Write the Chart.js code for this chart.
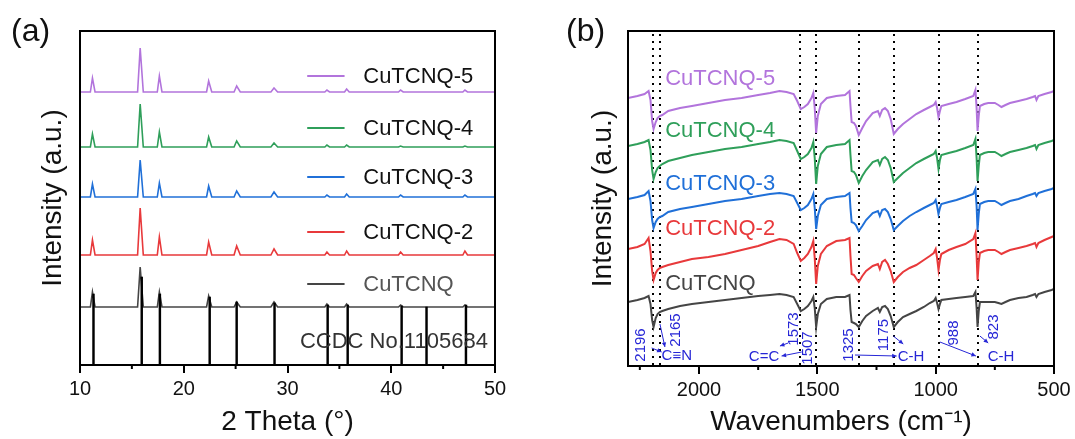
<!DOCTYPE html>
<html><head><meta charset="utf-8">
<script src="https://cdn.jsdelivr.net/npm/chart.js@4.4.1/dist/chart.umd.min.js"></script>
<style>
html,body{margin:0;padding:0;background:#fff;width:1075px;height:439px;overflow:hidden;font-family:"Liberation Sans",Arial,sans-serif;}
#ca{position:absolute;left:0;top:0;}
#cb{position:absolute;left:560px;top:0;}
.pl{position:absolute;font-size:32px;color:#111;line-height:1;}
</style></head><body>
<canvas id="ca" width="520" height="439"></canvas>
<canvas id="cb" width="515" height="439"></canvas>
<div class="pl" style="left:11px;top:14px">(a)</div>
<div class="pl" style="left:566px;top:14px">(b)</div>
<script>
// ---------- Panel (a): XRD ----------
const seriesNames = ['CuTCNQ-5', 'CuTCNQ-4', 'CuTCNQ-3', 'CuTCNQ-2', 'CuTCNQ'];
const xrdTheta = [10, 11.0, 11.2, 11.45, 15.55, 15.8, 16.1, 17.45, 17.65, 17.9, 22.2, 22.4, 22.7, 24.85, 25.1, 25.45, 28.4, 28.7, 29.05, 33.6, 33.8, 34.05, 35.5, 35.7, 35.95, 40.7, 40.9, 41.15, 46.9, 47.1, 47.35, 50];
const xrdCuTCNQ5 = [273, 273, 287, 273, 273, 317, 273, 273, 289, 273, 273, 284, 273, 273, 279, 273, 273, 277, 273, 273, 275, 273, 273, 276, 273, 273, 275, 273, 273, 275, 273, 273];
const xrdCuTCNQ4 = [218, 218, 231, 218, 218, 261, 218, 218, 233, 218, 218, 228, 218, 218, 224, 218, 218, 222, 218, 218, 220, 218, 218, 220, 218, 218, 219, 218, 218, 219, 218, 218];
const xrdCuTCNQ3 = [168, 168, 181, 168, 168, 205, 168, 168, 182, 168, 168, 179, 168, 168, 174, 168, 168, 173, 168, 168, 170, 168, 168, 171, 168, 168, 170, 168, 168, 170, 168, 168];
const xrdCuTCNQ2 = [110, 110, 125, 110, 110, 157, 110, 110, 128, 110, 110, 123, 110, 110, 119, 110, 110, 116, 110, 110, 113, 110, 110, 114, 110, 110, 113, 110, 110, 114, 110, 110];
const xrdCuTCNQ  = [58, 58, 73, 58, 58, 98, 58, 58, 73, 58, 58, 69, 58, 58, 63, 58, 58, 63, 58, 58, 61, 58, 58, 61, 58, 58, 60, 58, 58, 60, 58, 58];
const stickTheta = [11.3, 15.95, 17.7, 22.5, 25.1, 28.75, 33.87, 35.8, 41.0, 43.4, 47.2];
const stickHeight = [71, 88, 71, 68, 63, 62, 60, 60, 59, 58, 60];
const xrdTicks = [10, 20, 30, 40, 50];
const xrdMinorTicks = [15, 25, 35, 45];
const refLabel = 'CCDC No.1105684';

// ---------- Panel (b): FTIR ----------
const wavenumbers = [2300, 2260, 2230, 2213, 2205, 2198, 2192, 2183, 2175, 2166, 2155, 2130, 2080, 2030, 1960, 1890, 1820, 1750, 1700, 1660, 1630, 1600, 1585, 1570, 1555, 1540, 1525, 1517, 1511, 1505, 1498, 1485, 1460, 1420, 1383, 1364, 1360, 1355, 1345, 1337, 1325, 1310, 1294, 1266, 1244, 1236, 1226, 1214, 1202, 1190, 1177, 1160, 1138, 1110, 1082, 1050, 1025, 1008, 1000, 994, 988, 982, 976, 945, 912, 875, 841, 832, 827, 823, 818, 813, 795, 778, 750, 735, 722, 705, 686, 650, 616, 590, 580, 574, 566, 540, 510, 500];
const ftirCuTCNQ5 = [268, 270, 272, 275, 266, 245, 237, 244, 248, 250, 251, 255, 258, 260, 263, 266, 268, 271, 273, 275, 274, 272, 265, 257, 259, 262, 268, 273, 258, 233, 250, 262, 268, 270, 271, 275, 260, 244, 243, 240, 231, 238, 245, 253, 255, 250, 256, 258, 255, 247, 232, 237, 242, 247, 252, 256, 259, 261, 264, 258, 249, 255, 260, 262, 264, 267, 270, 276, 258, 235, 250, 260, 262, 263, 263, 261, 259, 261, 263, 265, 267, 269, 270, 266, 270, 272, 274, 275];
const ftirCuTCNQ4 = [220, 222, 224, 226, 216, 196, 187, 194, 198, 200, 202, 205, 208, 211, 214, 217, 219, 222, 224, 226, 225, 223, 215, 207, 209, 212, 218, 224, 208, 182, 200, 212, 219, 221, 222, 226, 211, 195, 194, 191, 183, 190, 196, 204, 206, 201, 207, 209, 206, 198, 184, 188, 193, 198, 203, 207, 210, 212, 215, 208, 197, 206, 211, 213, 215, 218, 221, 227, 208, 185, 200, 211, 213, 214, 214, 212, 210, 212, 214, 216, 218, 220, 221, 217, 221, 223, 225, 226];
const ftirCuTCNQ3 = [167, 169, 171, 175, 165, 146, 138, 144, 147, 149, 150, 154, 157, 159, 162, 165, 167, 170, 172, 173, 172, 170, 163, 156, 158, 161, 167, 172, 158, 137, 150, 161, 167, 169, 170, 173, 158, 144, 143, 141, 135, 140, 146, 153, 155, 150, 156, 157, 154, 147, 136, 140, 145, 150, 154, 158, 161, 163, 166, 160, 152, 158, 162, 164, 166, 169, 172, 177, 160, 136, 152, 162, 164, 165, 165, 163, 161, 163, 165, 167, 170, 172, 173, 170, 173, 175, 177, 178];
const ftirCuTCNQ2 = [117, 119, 122, 128, 115, 95, 86, 93, 96, 98, 99, 101, 104, 107, 109, 112, 116, 120, 124, 127, 126, 122, 113, 105, 108, 112, 119, 125, 108, 82, 100, 112, 120, 125, 126, 128, 110, 92, 91, 88, 84, 90, 95, 100, 102, 97, 104, 106, 102, 95, 84, 89, 94, 98, 101, 106, 110, 113, 117, 108, 96, 106, 112, 116, 119, 122, 127, 133, 110, 86, 104, 113, 115, 116, 116, 114, 112, 114, 116, 118, 120, 122, 123, 119, 123, 126, 129, 130];
const ftirCuTCNQ  = [64, 66, 68, 70, 62, 46, 39, 48, 52, 54, 55, 57, 60, 62, 64, 66, 68, 70, 71, 72, 71, 69, 62, 55, 57, 60, 65, 69, 58, 39, 52, 62, 67, 69, 69, 71, 56, 44, 43, 42, 39, 45, 50, 55, 58, 54, 59, 60, 57, 50, 39, 44, 49, 52, 55, 59, 63, 65, 68, 63, 57, 62, 66, 67, 68, 69, 70, 74, 58, 39, 55, 64, 64, 64, 64, 63, 62, 64, 66, 68, 69, 71, 72, 69, 72, 74, 76, 77];
const ftirTicks = [2000, 1500, 1000, 500];
const ftirMinorTicks = [2250, 1750, 1250, 750];
const bandPositions = [2196, 2165, 1573, 1507, 1325, 1175, 988, 823];
const groupLabels = ['C≡N', 'C=C', 'C-H', 'C-H'];

// ---------- styling ----------
const colors = ['#B274DC', '#2F9F5A', '#2070D8', '#E8393B', '#454545'];
const FONT = '"Liberation Sans", Arial, sans-serif';
Chart.defaults.font.family = FONT;
Chart.defaults.color = '#111';

const pts = (xs, ys) => xs.map((x, i) => ({x: x, y: ys[i]}));

function framePlugin(minor) {
  return {
    id: 'frame',
    afterDraw(chart) {
      const {ctx, chartArea: a, scales} = chart;
      ctx.save();
      ctx.strokeStyle = '#000';
      ctx.lineWidth = 2;
      ctx.strokeRect(a.left, a.top, a.right - a.left, a.bottom - a.top);
      minor.forEach(v => {
        const x = scales.x.getPixelForValue(v);
        ctx.beginPath(); ctx.moveTo(x, a.bottom); ctx.lineTo(x, a.bottom + 4); ctx.stroke();
      });
      ctx.restore();
    }
  };
}

function xScale(min, max, ticks, title, reverse, h) {
  return {
    type: 'linear', min: min, max: max, reverse: reverse, offset: false,
    afterBuildTicks: s => { s.ticks = ticks.map(v => ({value: v})); },
    afterFit: s => { s.height = h; },
    ticks: {font: {size: 20}, color: '#111', padding: 4, maxRotation: 0, autoSkip: false, callback: v => String(v)},
    grid: {drawOnChartArea: false, drawTicks: true, tickLength: 8, color: '#000', lineWidth: 2, offset: false},
    border: {display: true, color: '#000', width: 2},
    title: {display: true, text: title, font: {size: 28}, color: '#111', padding: {top: 0, bottom: 0}}
  };
}
function yScale(max, w, tpad) {
  return {
    min: 0, max: max,
    afterFit: s => { s.width = w; },
    ticks: {display: false},
    grid: {display: false},
    border: {display: false},
    title: {display: true, text: 'Intensity (a.u.)', font: {size: 28}, color: '#111', padding: {top: tpad, bottom: 0}}
  };
}

// ---------- chart (a) ----------
const xrdSeries = [xrdCuTCNQ5, xrdCuTCNQ4, xrdCuTCNQ3, xrdCuTCNQ2, xrdCuTCNQ];
const legendA = {
  id: 'legendA',
  afterDatasetsDraw(chart) {
    const {ctx, scales: {x, y}} = chart;
    const ys = [289, 237, 188, 133, 81];
    ctx.save();
    ctx.font = '22px ' + FONT;
    ctx.textBaseline = 'middle';
    seriesNames.forEach((n, i) => {
      const py = y.getPixelForValue(ys[i]);
      ctx.strokeStyle = colors[i]; ctx.lineWidth = 2;
      ctx.beginPath(); ctx.moveTo(x.getPixelForValue(31.9), py); ctx.lineTo(x.getPixelForValue(35.5), py); ctx.stroke();
      ctx.fillStyle = i === 4 ? '#555' : '#111';
      ctx.fillText(n, x.getPixelForValue(37.3), py + 1);
    });
    ctx.fillStyle = '#333';
    ctx.fillText(refLabel, x.getPixelForValue(31.2), y.getPixelForValue(23));
    ctx.restore();
  }
};
new Chart(document.getElementById('ca'), {
  type: 'line',
  data: {
    datasets: [
      {type: 'bar', data: pts(stickTheta, stickHeight), backgroundColor: '#000', borderWidth: 0, barThickness: 1.8}
    ].concat(xrdSeries.map((s, i) => ({
      label: seriesNames[i], data: pts(xrdTheta, s), borderColor: colors[i], borderWidth: 1.6, pointRadius: 0, tension: 0
    })))
  },
  options: {
    responsive: false, animation: false, events: [],
    layout: {padding: {top: 31, right: 25, left: 0, bottom: 0}},
    plugins: {legend: {display: false}, tooltip: {enabled: false}},
    scales: {x: xScale(10, 50, xrdTicks, '2 Theta (°)', false, 74), y: yScale(334, 80, 36)}
  },
  plugins: [framePlugin(xrdMinorTicks), legendA]
});

// ---------- chart (b) ----------
const ftirSeries = [ftirCuTCNQ5, ftirCuTCNQ4, ftirCuTCNQ3, ftirCuTCNQ2, ftirCuTCNQ];
const annB = {
  id: 'annB',
  beforeDatasetsDraw(chart) {
    const {ctx, chartArea: a, scales: {x}} = chart;
    ctx.save();
    ctx.strokeStyle = '#000'; ctx.lineWidth = 2; ctx.setLineDash([2, 5]);
    bandPositions.forEach(v => {
      const px = Math.round(x.getPixelForValue(v));
      ctx.beginPath(); ctx.moveTo(px, a.top + 3); ctx.lineTo(px, a.bottom); ctx.stroke();
    });
    ctx.restore();
  },
  afterDatasetsDraw(chart) {
    const {ctx, scales: {x, y}} = chart;
    const P = (wn, v) => [x.getPixelForValue(wn), y.getPixelForValue(v)];
    ctx.save();
    ctx.font = '22px ' + FONT; ctx.textBaseline = 'middle'; ctx.textAlign = 'left';
    const ly = [287, 235, 182, 137, 82];
    seriesNames.forEach((n, i) => {
      ctx.fillStyle = colors[i];
      const [px, py] = P(2143, ly[i]);
      ctx.fillText(n, px, py);
    });
    const blue = '#2626D6';
    ctx.fillStyle = blue; ctx.strokeStyle = blue;
    ctx.font = '15px ' + FONT; ctx.textAlign = 'center';
    const rot = [[2249, 21], [2101, 36], [1603, 37], [1543, 18], [1370, 21], [1222, 31], [927, 33], [758, 39]];
    bandPositions.forEach((b, i) => {
      const [px, py] = P(rot[i][0], rot[i][1]);
      ctx.save(); ctx.translate(px, py); ctx.rotate(-Math.PI / 2);
      ctx.fillText(String(b), 0, 1); ctx.restore();
    });
    const gpos = [[2094, 10], [1725, 9], [1104, 9], [724, 9]];
    groupLabels.forEach((g, i) => {
      const [px, py] = P(gpos[i][0], gpos[i][1]);
      ctx.fillText(g, px, py);
    });
    const arrows = [[2200, 18, 2158, 14], [2165, 42, 2144, 19], [1623, 23, 1658, 20], [1566, 14, 1651, 10],
                    [1341, 11, 1165, 10], [1179, 30, 1137, 22], [982, 24, 830, 10], [813, 30, 778, 23]];
    ctx.lineWidth = 1;
    arrows.forEach(ar => {
      const [x1, y1] = P(ar[0], ar[1]);
      const [x2, y2] = P(ar[2], ar[3]);
      ctx.beginPath(); ctx.moveTo(x1, y1); ctx.lineTo(x2, y2); ctx.stroke();
      const ang = Math.atan2(y2 - y1, x2 - x1), L = 5;
      ctx.beginPath(); ctx.moveTo(x2, y2);
      ctx.lineTo(x2 - L * Math.cos(ang - 0.45), y2 - L * Math.sin(ang - 0.45));
      ctx.lineTo(x2 - L * Math.cos(ang + 0.45), y2 - L * Math.sin(ang + 0.45));
      ctx.closePath(); ctx.fill();
    });
    ctx.restore();
  }
};
new Chart(document.getElementById('cb'), {
  type: 'line',
  data: {
    datasets: ftirSeries.map((s, i) => ({
      label: seriesNames[i], data: pts(wavenumbers, s), borderColor: colors[i], borderWidth: 2, pointRadius: 0, tension: 0
    }))
  },
  options: {
    responsive: false, animation: false, events: [],
    layout: {padding: {top: 31, right: 21, left: 0, bottom: 0}},
    plugins: {legend: {display: false}, tooltip: {enabled: false}},
    scales: {x: xScale(500, 2300, ftirTicks, 'Wavenumbers (cm\u207B\u00B9)', true, 73), y: yScale(335, 68, 26)}
  },
  plugins: [framePlugin(ftirMinorTicks), annB]
});
</script>
</body></html>
